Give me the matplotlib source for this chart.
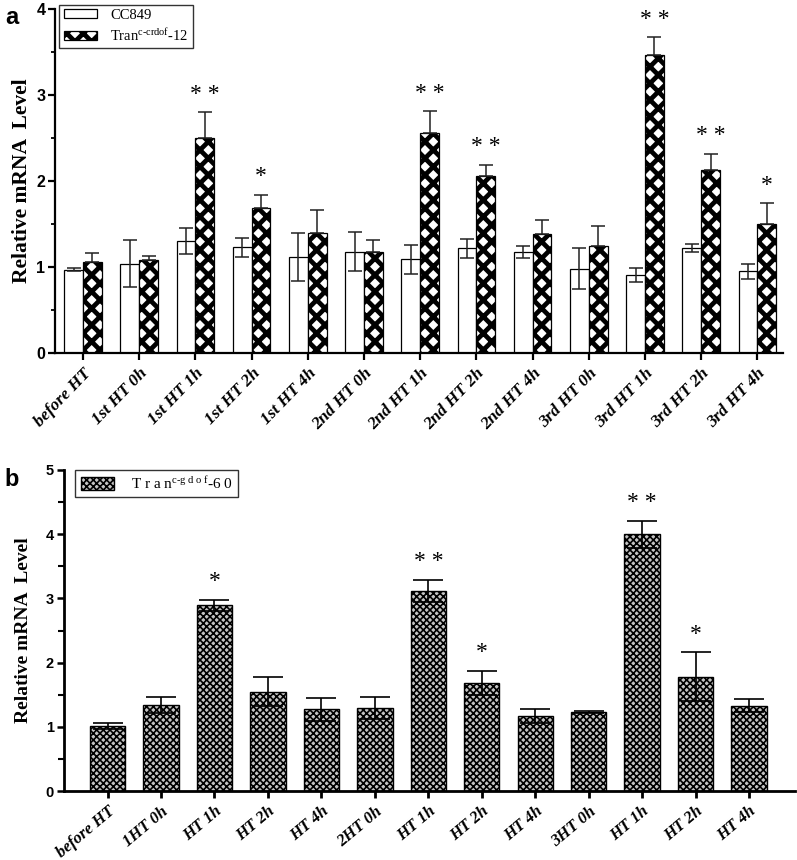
import matplotlib
matplotlib.use('Agg')
import matplotlib.pyplot as plt
import numpy as np
from matplotlib.patches import Patch
from matplotlib.ticker import MultipleLocator

plt.rcParams['mathtext.fontset'] = 'custom'
plt.rcParams['mathtext.rm'] = 'Liberation Serif'
plt.rcParams['mathtext.it'] = 'Liberation Serif:italic'

# ---- panel a data ----
labels_a = ['before HT', '1st HT 0h', '1st HT 1h', '1st HT 2h', '1st HT 4h',
            '2nd HT 0h', '2nd HT 1h', '2nd HT 2h', '2nd HT 4h',
            '3rd HT 0h', '3rd HT 1h', '3rd HT 2h', '3rd HT 4h']
cc849 = [0.97, 1.04, 1.30, 1.23, 1.12, 1.18, 1.09, 1.22, 1.18, 0.98, 0.91, 1.22, 0.95]
cc849_err = [0.02, 0.27, 0.15, 0.11, 0.28, 0.23, 0.17, 0.11, 0.07, 0.24, 0.08, 0.05, 0.09]
tran12 = [1.06, 1.08, 2.50, 1.69, 1.40, 1.18, 2.56, 2.06, 1.38, 1.25, 3.47, 2.13, 1.50]
tran12_err = [0.10, 0.05, 0.30, 0.15, 0.26, 0.13, 0.25, 0.13, 0.17, 0.23, 0.20, 0.19, 0.24]
stars_a = ['', '', '* *', '*', '', '', '* *', '* *', '', '', '* *', '* *', '*']

# ---- panel b data ----
labels_b = ['before HT', '1HT 0h', 'HT 1h', 'HT 2h', 'HT 4h', '2HT 0h', 'HT 1h',
            'HT 2h', 'HT 4h', '3HT 0h', 'HT 1h', 'HT 2h', 'HT 4h']
tran60 = [1.01, 1.34, 2.89, 1.55, 1.27, 1.29, 3.12, 1.68, 1.17, 1.23, 4.00, 1.78, 1.33]
tran60_err = [0.05, 0.12, 0.09, 0.23, 0.18, 0.17, 0.17, 0.19, 0.11, 0.01, 0.21, 0.38, 0.10]
stars_b = ['', '', '*', '', '', '', '* *', '*', '', '', '* *', '*', '']

serif = 'Liberation Serif'
sans = 'Liberation Sans'

fig = plt.figure(figsize=(7.97, 8.6), dpi=100)

# ================= panel a =================
ax1 = fig.add_axes([0.069, 0.5895, 0.913, 0.400])
x = np.arange(len(labels_a))
w = 0.335
with plt.rc_context({'hatch.linewidth': 3.4}):
    ax1.bar(x - w / 2, cc849, w, facecolor='white', edgecolor='black', lw=0.9, zorder=2)
    ax1.bar(x + w / 2, tran12, w, facecolor='white', edgecolor='black', hatch='xx',
            lw=0.9, zorder=2)
    h_a = [Patch(facecolor='white', edgecolor='black', lw=0.9, label='CC849'),
           Patch(facecolor='white', edgecolor='black', lw=0.9, hatch='xx',
                 label=r'Tran$^{\mathrm{c\text{-}crdof}}$-12')]
    leg = ax1.legend(handles=h_a, loc='upper left', bbox_to_anchor=(0.006, 1.013),
                     prop={'family': serif, 'size': 10.5}, frameon=True, fancybox=False,
                     edgecolor='black', handlelength=2.3, handleheight=0.55,
                     borderpad=0.3, labelspacing=0.35, handletextpad=0.9,
                     borderaxespad=0)
    leg.get_frame().set_linewidth(1.0)

ax1.errorbar(x - w / 2, cc849, yerr=cc849_err, fmt='none', ecolor='#222222',
             elinewidth=1.1, capsize=5, capthick=1.1, zorder=3)
ax1.errorbar(x + w / 2, tran12, yerr=[np.zeros(len(tran12)), tran12_err], fmt='none',
             ecolor='#222222', elinewidth=1.1, capsize=5, capthick=1.1, zorder=3)
for xi, m, e, s in zip(x, tran12, tran12_err, stars_a):
    if s:
        ax1.annotate(s, (xi + w / 2, m + e), xytext=(0, 13), textcoords='offset points',
                     ha='center', va='center', fontsize=17, family=serif)

ax1.set_xlim(-0.5, 12.45)
ax1.set_ylim(0, 4)
ax1.set_xticks(x)
ax1.set_xticklabels(labels_a, rotation=46, ha='right', va='top', rotation_mode='anchor',
                    family=serif, fontweight='bold', style='italic', fontsize=12.5)
ax1.yaxis.set_major_locator(MultipleLocator(1))
ax1.yaxis.set_minor_locator(MultipleLocator(0.5))
ax1.set_ylabel('Relative mRNA  Level', family=serif, fontweight='bold', fontsize=15.5,
               labelpad=3)
for lab in ax1.get_yticklabels():
    lab.set_family(sans)
    lab.set_fontweight('bold')
    lab.set_fontsize(11.5)
for sp in ['top', 'right']:
    ax1.spines[sp].set_visible(False)
for sp in ['left', 'bottom']:
    ax1.spines[sp].set_linewidth(1.6)
ax1.tick_params(axis='y', which='major', direction='out', length=5, width=1.6, pad=2)
ax1.tick_params(axis='y', which='minor', direction='out', length=3, width=1.3)
ax1.tick_params(axis='x', which='major', direction='out', length=5, width=1.6, pad=4)
fig.text(0.006, 0.972, 'a', family=sans, fontweight='bold', fontsize=17)

# ================= panel b =================
ax2 = fig.add_axes([0.080, 0.0802, 0.9175, 0.3733])
xb = np.arange(len(labels_b))
wb = 0.66
with plt.rc_context({'hatch.linewidth': 1.2}):
    ax2.bar(xb, tran60, wb, facecolor='#c4c4c4', edgecolor='black', hatch='xxxxx',
            lw=1.0, zorder=2)
    h_b = [Patch(facecolor='#c4c4c4', edgecolor='black', lw=1.0, hatch='xxxxx',
                 label=r'T r a n$^{\mathrm{c\text{-}g\ d\ o\ f}}$-6 0')]
    legb = ax2.legend(handles=h_b, loc='upper left', bbox_to_anchor=(0.016, 1.0),
                      prop={'family': serif, 'size': 11}, frameon=True, fancybox=False,
                      edgecolor='black', handlelength=2.2, handleheight=0.9,
                      borderpad=0.35, handletextpad=1.1, borderaxespad=0)
    legb.get_frame().set_linewidth(1.0)

ax2.errorbar(xb, tran60, yerr=tran60_err, fmt='none', ecolor='black', elinewidth=1.2,
             capsize=11, capthick=1.2, zorder=3)
for xi, m, e, s in zip(xb, tran60, tran60_err, stars_b):
    if s:
        ax2.annotate(s, (xi, m + e), xytext=(0, 13), textcoords='offset points',
                     ha='center', va='center', fontsize=17, family=serif)

ax2.set_xlim(-0.82, 12.86)
ax2.set_ylim(0, 5)
ax2.set_xticks(xb)
ax2.set_xticklabels(labels_b, rotation=40, ha='right', va='top', rotation_mode='anchor',
                    family=serif, fontweight='bold', style='italic', fontsize=12)
ax2.yaxis.set_major_locator(MultipleLocator(1))
ax2.yaxis.set_minor_locator(MultipleLocator(0.5))
ax2.set_ylabel('Relative mRNA  Level', family=serif, fontweight='bold', fontsize=14,
               labelpad=10)
for lab in ax2.get_yticklabels():
    lab.set_family(sans)
    lab.set_fontweight('bold')
    lab.set_fontsize(10.5)
for sp in ['top', 'right']:
    ax2.spines[sp].set_visible(False)
for sp in ['left', 'bottom']:
    ax2.spines[sp].set_linewidth(2.0)
ax2.tick_params(axis='y', which='major', direction='out', length=5, width=1.8, pad=2)
ax2.tick_params(axis='y', which='minor', direction='out', length=4, width=1.5)
ax2.tick_params(axis='x', which='major', direction='out', length=5, width=2.0, pad=4)
fig.text(0.006, 0.435, 'b', family=sans, fontweight='bold', fontsize=17)

fig.savefig('out.png', dpi=100)
